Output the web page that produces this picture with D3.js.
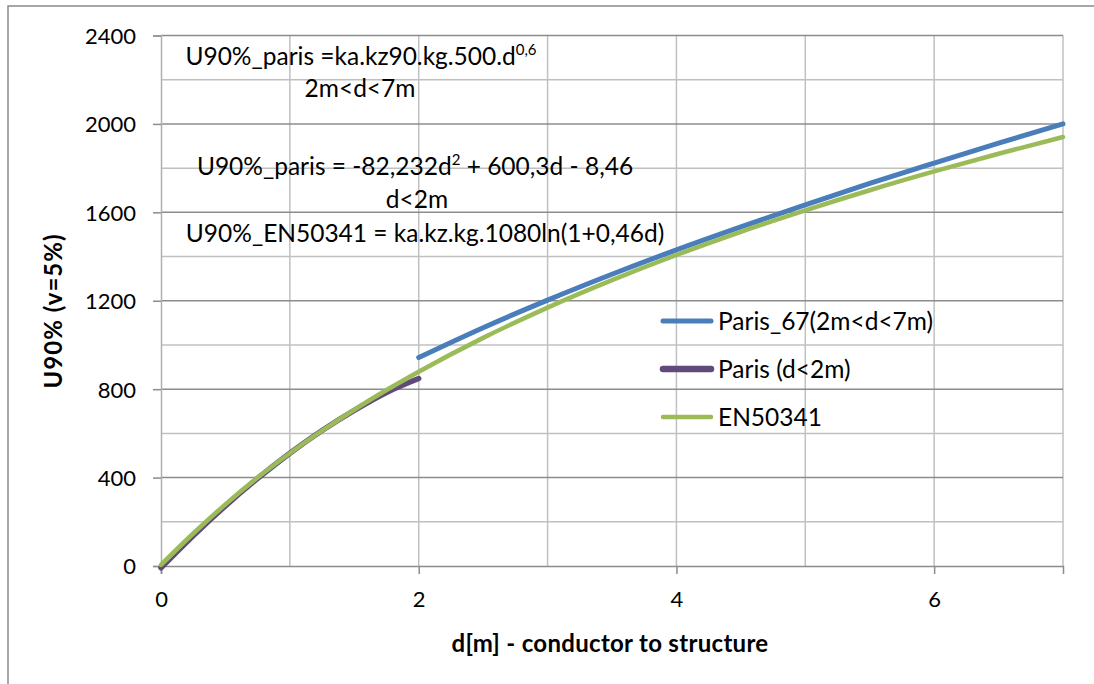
<!DOCTYPE html>
<html>
<head>
<meta charset="utf-8">
<script src="https://cdn.jsdelivr.net/npm/d3@7"></script>
<style>
  html, body { margin: 0; padding: 0; background: #fff; }
  svg { display: block; font-family: Lato, "Noto Sans", sans-serif; }
</style>
</head>
<body>
<svg id="chart" width="1094" height="684"></svg>
<script>
// Breakdown voltage U90% vs. conductor-to-structure distance
const xTickValues = [0, 2, 4, 6];
const xGridValues = [1, 2, 3, 4, 5, 6, 7];
const yTickValues = [0, 400, 800, 1200, 1600, 2000, 2400];
const yMinorValues = [200, 600, 1000, 1400, 1800, 2200];

// Paris_67 (2m<d<7m)
const dParis67 = [2, 2.5, 3, 3.5, 4, 4.5, 5, 5.5, 6, 6.5, 7];
const uParis67 = [943, 1078, 1203, 1320, 1430, 1534, 1634, 1731, 1823, 1913, 2000];

// Paris (d<2m)
const dParis = [0, 0.25, 0.5, 0.75, 1, 1.25, 1.5, 1.75, 2];
const uParis = [-8, 137, 272, 396, 510, 613, 704, 785, 848];

// EN50341
const dEN = [0, 0.25, 0.5, 0.75, 1, 1.25, 1.5, 1.75, 2, 2.5, 3, 3.5, 4, 4.5, 5, 5.5, 6, 6.5, 7];
const uEN = [5, 147, 279, 400, 510, 612, 707, 796, 879, 1032, 1169, 1293, 1407, 1512, 1609, 1700, 1785, 1865, 1941];

const seriesNames = ["Paris_67(2m<d<7m)", "Paris (d<2m)", "EN50341"];
const seriesColors = ["#4a7ebb", "#5f4a7b", "#9bbb59"];

const svg = d3.select("#chart");

// outer chart frame
svg.append("rect")
  .attr("x", 8).attr("y", 6).attr("width", 1200).attr("height", 800)
  .attr("fill", "none").attr("stroke", "#8a8a8a").attr("stroke-width", 1.5);

const x = d3.scaleLinear().domain([0, 7]).range([161, 1063]);
const y = d3.scaleLinear().domain([0, 2400]).range([566, 35.5]);

const grid = svg.append("g");
// light horizontal gridlines
grid.selectAll("line.hmin").data(yMinorValues).join("line")
  .attr("x1", x(0)).attr("x2", x(7))
  .attr("y1", d => y(d)).attr("y2", d => y(d))
  .attr("stroke", "#c0c0c0").attr("stroke-width", 1.5);
// vertical gridlines
grid.selectAll("line.v").data(xGridValues).join("line")
  .attr("x1", d => x(d)).attr("x2", d => x(d))
  .attr("y1", y(0)).attr("y2", y(2400))
  .attr("stroke", "#c0c0c0").attr("stroke-width", 1.5);
// major horizontal gridlines
grid.selectAll("line.hmaj").data(yTickValues.filter(v => v > 0)).join("line")
  .attr("x1", x(0)).attr("x2", x(7))
  .attr("y1", d => y(d)).attr("y2", d => y(d))
  .attr("stroke", "#8c8c8c").attr("stroke-width", 1.5);

// axes
const yAxis = svg.append("g")
  .attr("transform", `translate(${x(0)},0)`)
  .call(d3.axisLeft(y).tickValues(yTickValues).tickSize(8).tickPadding(17).tickFormat(d3.format("d")));
const xAxis = svg.append("g")
  .attr("transform", `translate(0,${y(0)})`)
  .call(d3.axisBottom(x).tickValues(xTickValues).tickSize(8).tickPadding(17).tickFormat(d3.format("d")));

[yAxis, xAxis].forEach(a => {
  a.select(".domain").attr("stroke", "#8c8c8c").attr("stroke-width", 1.5);
  a.selectAll(".tick line").attr("stroke", "#8c8c8c").attr("stroke-width", 1.5);
  a.selectAll(".tick text").attr("font-family", "Lato").attr("font-size", 22).attr("fill", "#000");
});
yAxis.select(".domain").attr("stroke", "#b0b0b0");
yAxis.selectAll(".tick text").attr("dy", "0.36em");
xAxis.selectAll(".tick text").attr("dy", "0.72em");

// axis titles
svg.append("text")
  .attr("x", 610).attr("y", 652)
  .attr("text-anchor", "middle")
  .attr("font-weight", "bold").attr("font-size", 24).attr("letter-spacing", 0.3)
  .text("d[m] - conductor to structure");
svg.append("text")
  .attr("transform", "translate(62,311) rotate(-90)")
  .attr("text-anchor", "middle")
  .attr("font-weight", "bold").attr("font-size", 24).attr("letter-spacing", 1)
  .text("U90% (v=5%)");

// curves
const line = d3.line().x(d => x(d[0])).y(d => y(d[1])).curve(d3.curveMonotoneX);
const series = [
  { d: dParis67, u: uParis67, w: 5 },
  { d: dParis, u: uParis, w: 5.5 },
  { d: dEN, u: uEN, w: 4.5 }
];
svg.append("g").selectAll("path").data(series).join("path")
  .attr("d", s => line(s.d.map((v, i) => [v, s.u[i]])))
  .attr("fill", "none")
  .attr("stroke", (s, i) => seriesColors[i])
  .attr("stroke-width", s => s.w)
  .attr("stroke-linecap", "round")
  .attr("stroke-linejoin", "round");

// legend
const legendY = [321, 369, 417];
const legendW = [5, 6.5, 4.5];
const legend = svg.append("g").selectAll("g").data(seriesNames).join("g")
  .attr("transform", (d, i) => `translate(0,${legendY[i]})`);
legend.append("line")
  .attr("x1", 663).attr("x2", 711)
  .attr("stroke", (d, i) => seriesColors[i])
  .attr("stroke-width", (d, i) => legendW[i])
  .attr("stroke-linecap", "round");
legend.append("text")
  .attr("x", 718).attr("y", 8.5)
  .attr("font-size", 24.5)
  .text(d => d);

// formula annotations
const notes = svg.append("g").attr("font-size", 24.5).attr("text-anchor", "middle");
const n1 = notes.append("text").attr("x", 361).attr("y", 65);
n1.append("tspan").text("U90%_paris =ka.kz90.kg.500.d");
n1.append("tspan").attr("font-size", 15).attr("dy", -10).text("0,6");
notes.append("text").attr("x", 360).attr("y", 97).text("2m<d<7m");
const n2 = notes.append("text").attr("x", 415).attr("y", 175);
n2.append("tspan").text("U90%_paris = -82,232d");
n2.append("tspan").attr("font-size", 15).attr("dy", -10).text("2");
n2.append("tspan").attr("dy", 10).text(" + 600,3d - 8,46");
notes.append("text").attr("x", 417).attr("y", 208).text("d<2m");
notes.append("text").attr("x", 425).attr("y", 242).text("U90%_EN50341 = ka.kz.kg.1080ln(1+0,46d)");
</script>
</body>
</html>
